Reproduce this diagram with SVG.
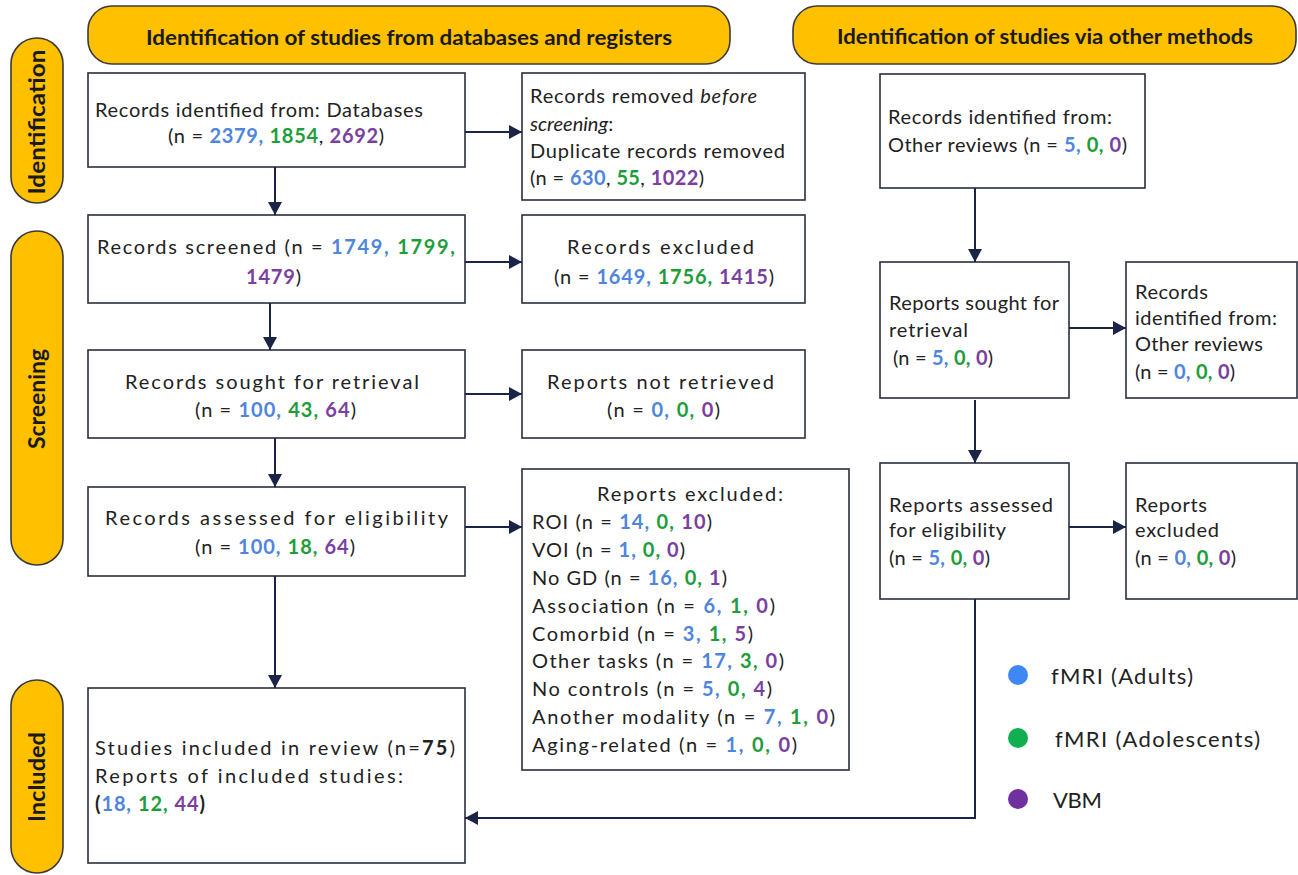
<svg xmlns="http://www.w3.org/2000/svg" width="1298" height="875" viewBox="0 0 1298 875">
<style>
.bg{fill:#ffffff}
.hdr{fill:#FFC000;stroke:#3a3a3a;stroke-width:1.6}
.box{fill:#ffffff;stroke:#2a2d3e;stroke-width:1.6}
.t{font-family:Lato,'Noto Sans',sans-serif;font-size:20px;fill:#222222}
.ht{font-family:Lato,'Noto Sans',sans-serif;font-size:20.5px;font-weight:700;fill:#1a1a1a}
.st{font-family:Lato,'Noto Sans',sans-serif;font-size:22px;font-weight:700;fill:#1a1a1a}
.lg{font-family:Lato,'Noto Sans',sans-serif;font-size:22px;fill:#222222}
.b{fill:#4F86DC;font-weight:700}
.g{fill:#1E9E3A;font-weight:700}
.p{fill:#7A3FA0;font-weight:700}
.k{font-weight:700}
.i{font-style:italic}
.c{stroke:#1B2447;stroke-width:2;fill:none}
</style>
<defs>
<marker id="ah" markerUnits="userSpaceOnUse" markerWidth="14" markerHeight="14" refX="13" refY="7" orient="auto">
<path d="M0,0 L13,7 L0,14 Z" fill="#1B2447"/>
</marker>
</defs>
<rect class="bg" x="0" y="0" width="1298" height="875"/>

<g id="header-databases">
<rect class="hdr" x="88" y="6" width="642" height="58" rx="24"/>
<text class="ht" x="409" y="45" text-anchor="middle" textLength="526" lengthAdjust="spacingAndGlyphs">Identification of studies from databases and registers</text>
</g>
<g id="header-other">
<rect class="hdr" x="793" y="6" width="503" height="58" rx="24"/>
<text class="ht" x="1045" y="44" text-anchor="middle" textLength="416" lengthAdjust="spacingAndGlyphs">Identification of studies via other methods</text>
</g>

<g id="stage-identification">
<rect class="hdr" x="11" y="38" width="52" height="165" rx="26"/>
<text class="st" transform="translate(45,122) rotate(-90)" text-anchor="middle" textLength="145" lengthAdjust="spacingAndGlyphs">Identification</text>
</g>
<g id="stage-screening">
<rect class="hdr" x="11" y="231" width="52" height="334" rx="26"/>
<text class="st" transform="translate(45,399) rotate(-90)" text-anchor="middle" textLength="100" lengthAdjust="spacingAndGlyphs">Screening</text>
</g>
<g id="stage-included">
<rect class="hdr" x="11" y="680" width="52" height="193" rx="26"/>
<text class="st" transform="translate(45,777) rotate(-90)" text-anchor="middle" textLength="90" lengthAdjust="spacingAndGlyphs">Included</text>
</g>

<g id="box-db-identified">
<rect class="box" x="88" y="73" width="377" height="94"/>
<text class="t" x="95" y="117" textLength="328" lengthAdjust="spacing">Records identified from: Databases</text>
<text class="t" x="168" y="143" textLength="216" lengthAdjust="spacing">(n = <tspan class="b">2379,</tspan> <tspan class="g">1854</tspan>, <tspan class="p">2692</tspan>)</text>
</g>

<g id="box-removed">
<rect class="box" x="522" y="73" width="283" height="127"/>
<text class="t" x="530" y="103" textLength="227" lengthAdjust="spacing">Records removed <tspan class="i">before</tspan></text>
<text class="t" x="530" y="131"><tspan class="i">screening</tspan>:</text>
<text class="t" x="530" y="158" textLength="255" lengthAdjust="spacing">Duplicate records removed</text>
<text class="t" x="530" y="185" textLength="174" lengthAdjust="spacing">(n = <tspan class="b">630</tspan>, <tspan class="g">55</tspan>, <tspan class="p">1022</tspan>)</text>
</g>

<g id="box-screened">
<rect class="box" x="88" y="215" width="377" height="88"/>
<text class="t" x="97" y="254" textLength="358" lengthAdjust="spacing">Records screened (n = <tspan class="b">1749,</tspan> <tspan class="g">1799,</tspan></text>
<text class="t" x="246" y="284" textLength="55" lengthAdjust="spacing"><tspan class="p">1479</tspan>)</text>
</g>

<g id="box-excluded">
<rect class="box" x="522" y="215" width="283" height="88"/>
<text class="t" x="567" y="254" textLength="187" lengthAdjust="spacing">Records excluded</text>
<text class="t" x="554" y="284" textLength="220" lengthAdjust="spacing">(n = <tspan class="b">1649,</tspan> <tspan class="g">1756,</tspan> <tspan class="p">1415</tspan>)</text>
</g>

<g id="box-sought">
<rect class="box" x="88" y="350" width="377" height="88"/>
<text class="t" x="125" y="389" textLength="294" lengthAdjust="spacing">Records sought for retrieval</text>
<text class="t" x="195" y="417" textLength="161" lengthAdjust="spacing">(n = <tspan class="b">100,</tspan> <tspan class="g">43,</tspan> <tspan class="p">64</tspan>)</text>
</g>

<g id="box-not-retrieved">
<rect class="box" x="522" y="350" width="283" height="88"/>
<text class="t" x="547" y="389" textLength="227" lengthAdjust="spacing">Reports not retrieved</text>
<text class="t" x="607" y="417" textLength="113" lengthAdjust="spacing">(n = <tspan class="b">0,</tspan> <tspan class="g">0,</tspan> <tspan class="p">0</tspan>)</text>
</g>

<g id="box-assessed">
<rect class="box" x="88" y="487" width="377" height="89"/>
<text class="t" x="105" y="525" textLength="343" lengthAdjust="spacing">Records assessed for eligibility</text>
<text class="t" x="195" y="554" textLength="160" lengthAdjust="spacing">(n = <tspan class="b">100,</tspan> <tspan class="g">18,</tspan> <tspan class="p">64</tspan>)</text>
</g>

<g id="box-reports-excluded">
<rect class="box" x="522" y="469" width="327" height="301"/>
<text class="t" x="597" y="501" textLength="186" lengthAdjust="spacing">Reports excluded:</text>
<text class="t" x="532" y="529" textLength="180" lengthAdjust="spacing">ROI (n = <tspan class="b">14,</tspan> <tspan class="g">0,</tspan> <tspan class="p">10</tspan>)</text>
<text class="t" x="532" y="557" textLength="153" lengthAdjust="spacing">VOI (n = <tspan class="b">1,</tspan> <tspan class="g">0,</tspan> <tspan class="p">0</tspan>)</text>
<text class="t" x="532" y="585" textLength="195" lengthAdjust="spacing">No GD (n = <tspan class="b">16,</tspan> <tspan class="g">0,</tspan> <tspan class="p">1</tspan>)</text>
<text class="t" x="532" y="613" textLength="243" lengthAdjust="spacing">Association (n = <tspan class="b">6,</tspan> <tspan class="g">1,</tspan> <tspan class="p">0</tspan>)</text>
<text class="t" x="532" y="641" textLength="221" lengthAdjust="spacing">Comorbid (n = <tspan class="b">3,</tspan> <tspan class="g">1,</tspan> <tspan class="p">5</tspan>)</text>
<text class="t" x="532" y="668" textLength="252" lengthAdjust="spacing">Other tasks (n = <tspan class="b">17,</tspan> <tspan class="g">3,</tspan> <tspan class="p">0</tspan>)</text>
<text class="t" x="532" y="696" textLength="240" lengthAdjust="spacing">No controls (n = <tspan class="b">5,</tspan> <tspan class="g">0,</tspan> <tspan class="p">4</tspan>)</text>
<text class="t" x="532" y="724" textLength="303" lengthAdjust="spacing">Another modality (n = <tspan class="b">7,</tspan> <tspan class="g">1,</tspan> <tspan class="p">0</tspan>)</text>
<text class="t" x="532" y="752" textLength="265" lengthAdjust="spacing">Aging-related (n = <tspan class="b">1,</tspan> <tspan class="g">0,</tspan> <tspan class="p">0</tspan>)</text>
</g>

<g id="box-included">
<rect class="box" x="88" y="688" width="377" height="175"/>
<text class="t" x="95" y="755" textLength="360" lengthAdjust="spacing">Studies included in review (n=<tspan class="k">75</tspan>)</text>
<text class="t" x="95" y="783" textLength="308" lengthAdjust="spacing">Reports of included studies:</text>
<text class="t" x="95" y="811" textLength="110" lengthAdjust="spacing"><tspan class="k">(</tspan><tspan class="b">18,</tspan> <tspan class="g">12,</tspan> <tspan class="p">44</tspan><tspan class="k">)</tspan></text>
</g>

<g id="box-other-identified">
<rect class="box" x="880" y="74" width="265" height="114"/>
<text class="t" x="888" y="124" textLength="224" lengthAdjust="spacing">Records identified from:</text>
<text class="t" x="888" y="152" textLength="239" lengthAdjust="spacing">Other reviews (n = <tspan class="b">5,</tspan> <tspan class="g">0,</tspan> <tspan class="p">0</tspan>)</text>
</g>

<g id="box-other-sought">
<rect class="box" x="880" y="262" width="189" height="136"/>
<text class="t" x="889" y="310" textLength="170" lengthAdjust="spacing">Reports sought for</text>
<text class="t" x="889" y="337" textLength="79" lengthAdjust="spacing">retrieval</text>
<text class="t" x="893" y="365" textLength="100" lengthAdjust="spacing">(n = <tspan class="b">5,</tspan> <tspan class="g">0,</tspan> <tspan class="p">0</tspan>)</text>
</g>

<g id="box-other-not-retrieved">
<rect class="box" x="1126" y="262" width="171" height="136"/>
<text class="t" x="1135" y="299" textLength="73" lengthAdjust="spacing">Records</text>
<text class="t" x="1135" y="325" textLength="142" lengthAdjust="spacing">identified from:</text>
<text class="t" x="1135" y="351" textLength="128" lengthAdjust="spacing">Other reviews</text>
<text class="t" x="1135" y="379" textLength="100" lengthAdjust="spacing">(n = <tspan class="b">0,</tspan> <tspan class="g">0,</tspan> <tspan class="p">0</tspan>)</text>
</g>

<g id="box-other-assessed">
<rect class="box" x="880" y="463" width="189" height="136"/>
<text class="t" x="889" y="512" textLength="164" lengthAdjust="spacing">Reports assessed</text>
<text class="t" x="889" y="537" textLength="117" lengthAdjust="spacing">for eligibility</text>
<text class="t" x="889" y="565" textLength="101" lengthAdjust="spacing">(n = <tspan class="b">5,</tspan> <tspan class="g">0,</tspan> <tspan class="p">0</tspan>)</text>
</g>

<g id="box-other-excluded">
<rect class="box" x="1126" y="463" width="171" height="136"/>
<text class="t" x="1135" y="512" textLength="72" lengthAdjust="spacing">Reports</text>
<text class="t" x="1135" y="537" textLength="84" lengthAdjust="spacing">excluded</text>
<text class="t" x="1135" y="565" textLength="101" lengthAdjust="spacing">(n = <tspan class="b">0,</tspan> <tspan class="g">0,</tspan> <tspan class="p">0</tspan>)</text>
</g>

<g id="legend">
<circle cx="1018" cy="675" r="10" fill="#3F87F5"/>
<text class="lg" x="1051" y="684" textLength="142" lengthAdjust="spacing">fMRI (Adults)</text>
<circle cx="1018" cy="738" r="10" fill="#10B050"/>
<text class="lg" x="1055" y="747" textLength="205" lengthAdjust="spacing">fMRI (Adolescents)</text>
<circle cx="1018" cy="799" r="10" fill="#7030A0"/>
<text class="lg" x="1053" y="808" textLength="49" lengthAdjust="spacing">VBM</text>
</g>

<g id="connectors">
<line class="c" x1="465" y1="132" x2="522" y2="132" marker-end="url(#ah)"/>
<line class="c" x1="275" y1="167" x2="275" y2="215" marker-end="url(#ah)"/>
<line class="c" x1="465" y1="262" x2="522" y2="262" marker-end="url(#ah)"/>
<line class="c" x1="270" y1="303" x2="270" y2="350" marker-end="url(#ah)"/>
<line class="c" x1="465" y1="394" x2="522" y2="394" marker-end="url(#ah)"/>
<line class="c" x1="275" y1="438" x2="275" y2="487" marker-end="url(#ah)"/>
<line class="c" x1="465" y1="527" x2="522" y2="527" marker-end="url(#ah)"/>
<line class="c" x1="275" y1="576" x2="275" y2="688" marker-end="url(#ah)"/>
<line class="c" x1="975" y1="188" x2="975" y2="262" marker-end="url(#ah)"/>
<line class="c" x1="1069" y1="328" x2="1126" y2="328" marker-end="url(#ah)"/>
<line class="c" x1="975" y1="400" x2="975" y2="463" marker-end="url(#ah)"/>
<line class="c" x1="1069" y1="527" x2="1126" y2="527" marker-end="url(#ah)"/>
<polyline class="c" points="975,599 975,818 465,818" marker-end="url(#ah)"/>
</g>
</svg>
